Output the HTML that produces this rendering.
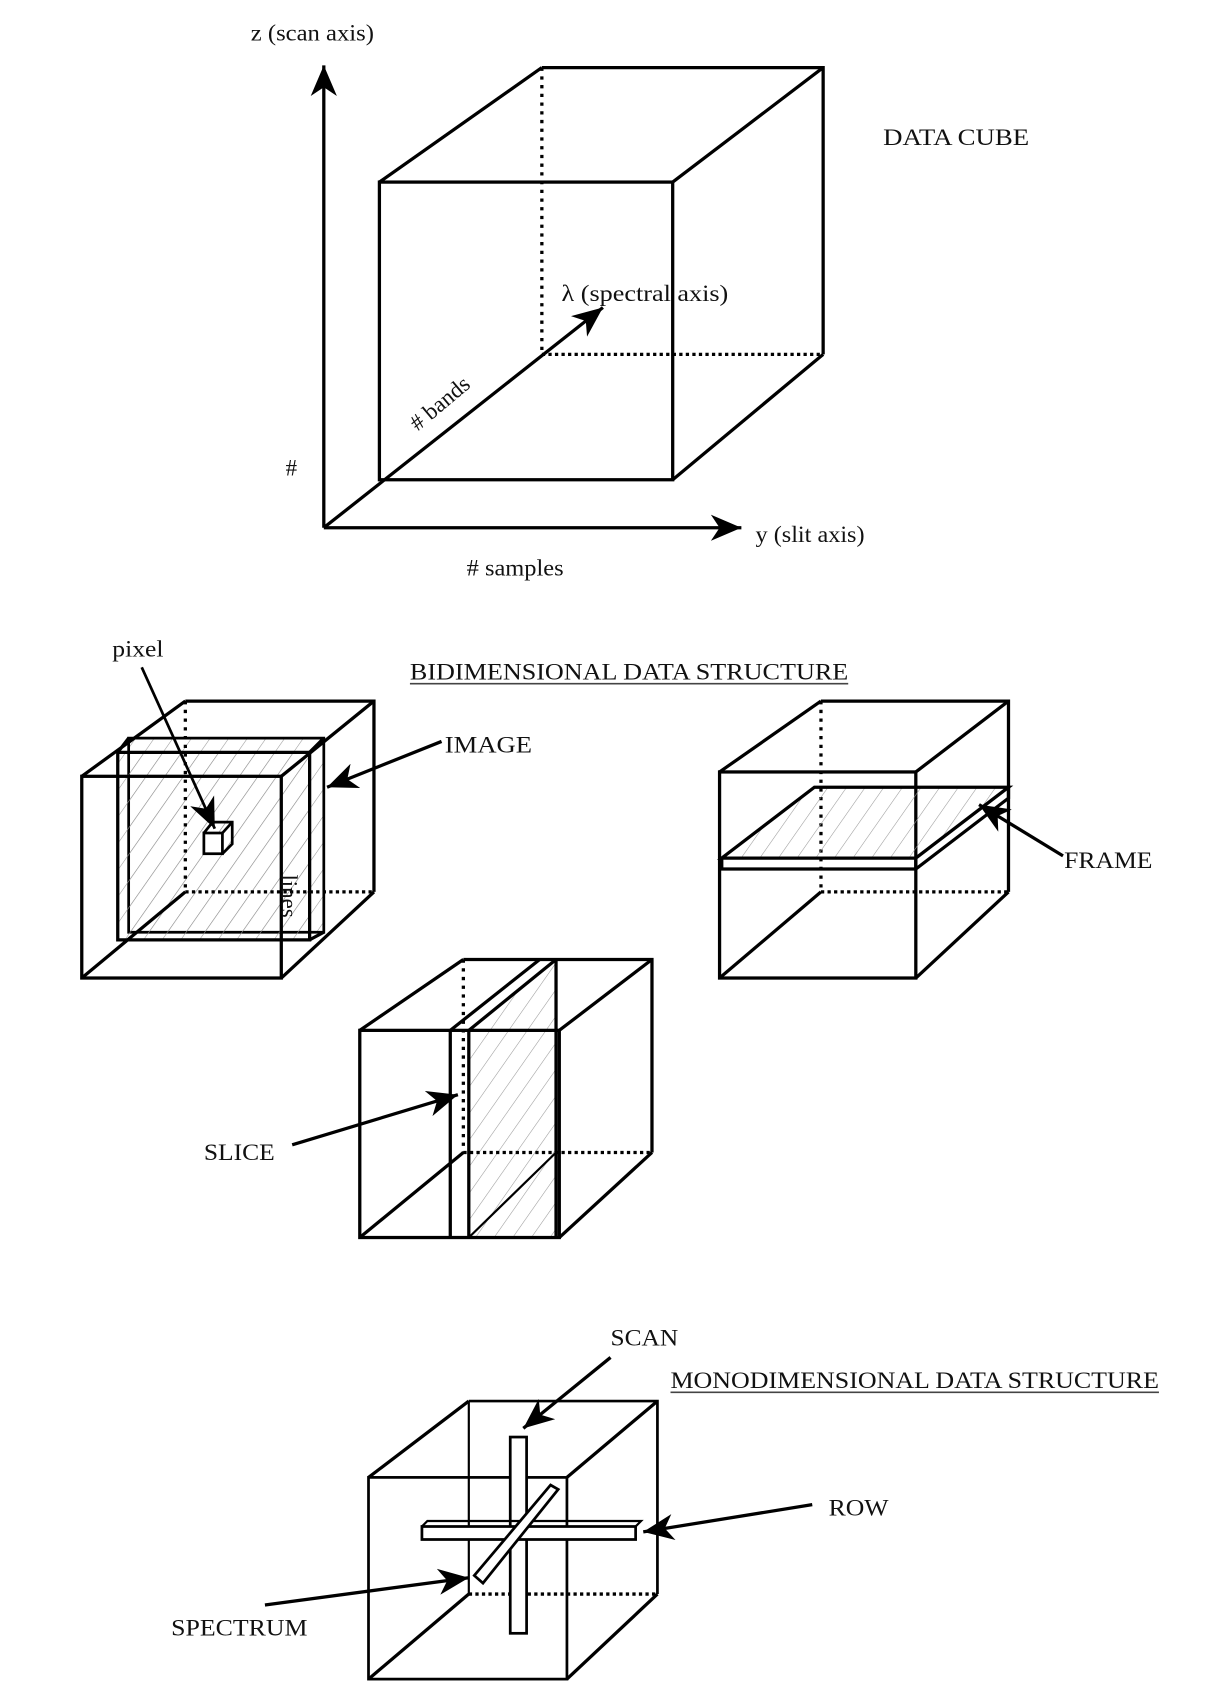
<!DOCTYPE html>
<html><head><meta charset="utf-8"><style>
html,body{margin:0;padding:0;background:#fff;}
svg{display:block}
text{font-family:"Liberation Serif",serif;font-size:21px;fill:#111}
</style></head><body>
<svg width="1220" height="1702" viewBox="0 0 1119 1561" preserveAspectRatio="none" xmlns="http://www.w3.org/2000/svg">
<defs>
<pattern id="h" width="14" height="14" patternUnits="userSpaceOnUse" patternTransform="rotate(35)">
<line x1="0" y1="0" x2="0" y2="14" stroke="#999" stroke-width="1"/></pattern>
<marker id="b" markerWidth="30" markerHeight="24" refX="28" refY="12" orient="auto" markerUnits="userSpaceOnUse">
<path d="M0,0 L28,12 L0,24 L8,12 Z" fill="#000"/></marker>
</defs>
<g stroke="#000" stroke-width="3" fill="none" stroke-linecap="butt">
<!-- DATA CUBE -->
<line x1="297" y1="484" x2="297" y2="60" marker-end="url(#b)"/>
<line x1="297" y1="484" x2="680" y2="484" marker-end="url(#b)"/>
<line x1="297" y1="484" x2="553" y2="282" marker-end="url(#b)"/>
<rect x="348" y="167" width="269" height="273"/>
<polyline points="497,62 755,62 755,325"/>
<line x1="348" y1="167" x2="497" y2="62"/>
<line x1="617" y1="167" x2="755" y2="62"/>
<line x1="617" y1="440" x2="755" y2="325"/>
<line x1="497" y1="62" x2="497" y2="325" stroke-dasharray="3,5"/>
<line x1="497" y1="325" x2="755" y2="325" stroke-dasharray="3,3"/>

<!-- IMAGE cube -->
<polygon points="118,677 297,677 297,855 118,855" fill="url(#h)" stroke-width="2.5"/>
<polygon points="108,690 284,690 284,862 108,862" fill="url(#h)"/>
<line x1="108" y1="690" x2="118" y2="677"/><line x1="284" y1="690" x2="297" y2="677"/><line x1="284" y1="862" x2="297" y2="855"/>
<rect x="75" y="712" width="183" height="185"/>
<polyline points="170,643 343,643 343,818"/>
<line x1="75" y1="712" x2="170" y2="643"/><line x1="258" y1="712" x2="343" y2="643"/><line x1="258" y1="897" x2="343" y2="818"/><line x1="75" y1="897" x2="170" y2="818"/>
<line x1="170" y1="643" x2="170" y2="818" stroke-dasharray="3,5"/>
<line x1="170" y1="818" x2="343" y2="818" stroke-dasharray="3,3"/>
<rect x="187" y="764" width="17" height="19" fill="#fff" stroke-width="2.5"/>
<polyline points="187,764 195,754 213,754 213,774 204,783" stroke-width="2.5"/>
<line x1="204" y1="764" x2="213" y2="754" stroke-width="2.5"/>
<line x1="130" y1="612" x2="197" y2="760" stroke-width="2.5" marker-end="url(#b)"/>
<line x1="405" y1="680" x2="300" y2="722" marker-end="url(#b)"/>

<!-- FRAME cube -->
<rect x="660" y="708" width="180" height="189"/>
<polyline points="753,643 925,643 925,818"/>
<line x1="660" y1="708" x2="753" y2="643"/><line x1="840" y1="708" x2="925" y2="643"/><line x1="840" y1="897" x2="925" y2="818"/><line x1="660" y1="897" x2="753" y2="818"/>
<line x1="753" y1="643" x2="753" y2="818" stroke-dasharray="3,5"/>
<line x1="753" y1="818" x2="925" y2="818" stroke-dasharray="3,3"/>
<polygon points="662,787 840,787 925,722 747,722" fill="url(#h)"/>
<polyline points="662,787 662,797 840,797 925,732 925,722"/>
<line x1="840" y1="787" x2="840" y2="797"/>
<line x1="975" y1="785" x2="898" y2="738" marker-end="url(#b)"/>

<!-- SLICE cube -->
<polygon points="430,945 510,880 510,1135 430,1135" fill="url(#h)" stroke="none"/>
<rect x="330" y="945" width="183" height="190"/>
<polyline points="425,880 598,880 598,1057"/>
<line x1="330" y1="945" x2="425" y2="880"/><line x1="513" y1="945" x2="598" y2="880"/><line x1="513" y1="1135" x2="598" y2="1057"/><line x1="330" y1="1135" x2="425" y2="1057"/>
<line x1="425" y1="880" x2="425" y2="1057" stroke-dasharray="3,5"/>
<line x1="425" y1="1057" x2="598" y2="1057" stroke-dasharray="3,3"/>
<line x1="413" y1="945" x2="413" y2="1135"/>
<line x1="430" y1="945" x2="430" y2="1135"/>
<line x1="413" y1="945" x2="495" y2="880"/>
<line x1="430" y1="945" x2="510" y2="880"/>
<line x1="510" y1="880" x2="510" y2="1135"/>
<line x1="430" y1="1135" x2="510" y2="1057" stroke-width="2"/>
<line x1="268" y1="1050" x2="420" y2="1004" marker-end="url(#b)"/>

<!-- MONO cube -->
<rect x="338" y="1355" width="182" height="185" stroke-width="2.5"/>
<polyline points="430,1285 603,1285 603,1462" stroke-width="2.5"/>
<line x1="430" y1="1285" x2="430" y2="1462" stroke-width="2"/>
<line x1="338" y1="1355" x2="430" y2="1285"/><line x1="520" y1="1355" x2="603" y2="1285"/><line x1="520" y1="1540" x2="603" y2="1462"/><line x1="338" y1="1540" x2="430" y2="1462"/>
<line x1="430" y1="1462" x2="603" y2="1462" stroke-dasharray="3,3"/>
<rect x="468" y="1318" width="15" height="180" fill="#fff" stroke-width="2.5"/>
<polygon points="387,1400 583,1400 583,1412 387,1412" fill="#fff" stroke-width="2.5"/>
<polyline points="387,1400 392,1395 588,1395 583,1400" stroke-width="2"/>
<polygon points="435,1445 505,1362 512,1366 443,1452" fill="#fff" stroke-width="2.5"/>
<line x1="560" y1="1245" x2="480" y2="1310" marker-end="url(#b)"/>
<line x1="745" y1="1380" x2="590" y2="1405" marker-end="url(#b)"/>
<line x1="243" y1="1472" x2="430" y2="1447" marker-end="url(#b)"/>
</g>
<text x="230" y="37" textLength="113" lengthAdjust="spacingAndGlyphs">z (scan axis)</text>
<text x="810" y="133" textLength="134" lengthAdjust="spacingAndGlyphs">DATA CUBE</text>
<text x="515" y="276" textLength="153" lengthAdjust="spacingAndGlyphs">λ (spectral axis)</text>
<text x="0" y="0" transform="translate(383,396) rotate(-40)" font-size="17">#  bands</text>
<text x="262" y="436" font-size="14">#</text>
<text x="428" y="528" textLength="89" lengthAdjust="spacingAndGlyphs"># samples</text>
<text x="693" y="497" textLength="100" lengthAdjust="spacingAndGlyphs">y (slit axis)</text>
<text x="103" y="602" textLength="47" lengthAdjust="spacingAndGlyphs">pixel</text>
<text x="376" y="623" textLength="402" lengthAdjust="spacingAndGlyphs">BIDIMENSIONAL DATA STRUCTURE</text>
<line x1="376" y1="627" x2="778" y2="627" stroke="#444" stroke-width="1.5"/>
<text x="408" y="690" textLength="80" lengthAdjust="spacingAndGlyphs">IMAGE</text>
<text x="0" y="0" transform="translate(258,802) rotate(90)" font-size="17">lines</text>
<text x="976" y="796" textLength="81" lengthAdjust="spacingAndGlyphs">FRAME</text>
<text x="187" y="1064" textLength="65" lengthAdjust="spacingAndGlyphs">SLICE</text>
<text x="560" y="1234" textLength="62" lengthAdjust="spacingAndGlyphs">SCAN</text>
<text x="615" y="1273" textLength="448" lengthAdjust="spacingAndGlyphs">MONODIMENSIONAL DATA STRUCTURE</text>
<line x1="615" y1="1277" x2="1063" y2="1277" stroke="#444" stroke-width="1.5"/>
<text x="760" y="1390" textLength="55" lengthAdjust="spacingAndGlyphs">ROW</text>
<text x="157" y="1500" textLength="125" lengthAdjust="spacingAndGlyphs">SPECTRUM</text>
</svg>
</body></html>
